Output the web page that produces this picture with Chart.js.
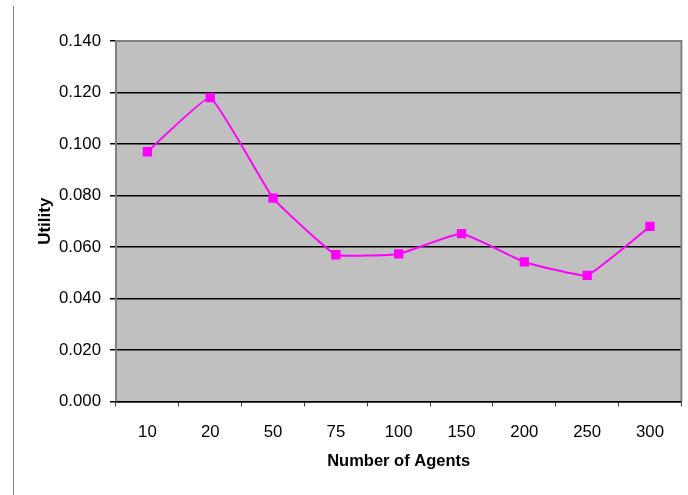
<!DOCTYPE html>
<html>
<head>
<meta charset="utf-8">
<script src="https://cdn.jsdelivr.net/npm/chart.js@4/dist/chart.umd.min.js"></script>
<style>
  html, body { margin: 0; padding: 0; background: #fff; }
  #wrap { width: 688px; height: 495px; }
</style>
</head>
<body>
<div id="wrap"><canvas id="chart" width="688" height="495"></canvas></div>
<script>
// values
const agents = ["10", "20", "50", "75", "100", "150", "200", "250", "300"];
const utility = [0.097, 0.118, 0.079, 0.057, 0.0573, 0.0652, 0.0542, 0.049, 0.068];
const yTicks = [0, 0.02, 0.04, 0.06, 0.08, 0.1, 0.12, 0.14];

// gray plot background + frame, plus the stray vertical line on the left
const framePlugin = {
    id: 'frame',
    beforeDraw(chart) {
        const ctx = chart.ctx;
        const a = chart.chartArea;
        ctx.save();
        ctx.fillStyle = '#C0C0C0';
        ctx.fillRect(a.left, a.top, a.right - a.left, a.bottom - a.top);
        ctx.strokeStyle = '#808080';
        ctx.lineWidth = 1;
        ctx.beginPath();
        ctx.moveTo(13.5, 6);
        ctx.lineTo(13.5, 495);
        ctx.stroke();
        ctx.restore();
    },
    beforeDatasetsDraw(chart) {
        const ctx = chart.ctx;
        const a = chart.chartArea;
        ctx.save();
        ctx.strokeStyle = '#808080';
        ctx.lineWidth = 2;
        ctx.beginPath();
        ctx.moveTo(a.left, a.bottom);
        ctx.lineTo(a.left, a.top);
        ctx.lineTo(a.right, a.top);
        ctx.lineTo(a.right, a.bottom);
        ctx.stroke();
        ctx.restore();
    }
};

const ctx = document.getElementById('chart');
const myChart = new Chart(ctx, {
    type: 'line',
    data: {
        labels: agents,
        datasets: [{
            label: 'Utility',
            data: utility,
            borderColor: '#FF00FF',
            backgroundColor: '#FF00FF',
            borderWidth: 2,
            tension: 0.1,
            pointStyle: 'rect',
            pointRadius: 6.6,
            pointBorderWidth: 0,
            pointBackgroundColor: '#FF00FF'
        }]
    },
    options: {
        responsive: false,
        animation: false,
        layout: { padding: { top: 41, right: 4, left: 0, bottom: 0 } },
        plugins: {
            legend: { display: false },
            tooltip: { enabled: false }
        },
        scales: {
            x: {
                offset: true,
                grid: {
                    offset: true,
                    drawOnChartArea: false,
                    tickLength: 5,
                    tickColor: '#404040'
                },
                border: { display: true, color: '#000', width: 1.5 },
                ticks: {
                    color: '#000',
                    padding: 16,
                    maxRotation: 0,
                    font: { family: 'Liberation Sans, Arial, sans-serif', size: 16.8 }
                },
                title: {
                    display: true,
                    text: 'Number of Agents',
                    color: '#000',
                    padding: { top: 0, bottom: 24 },
                    font: { family: 'Liberation Sans, Arial, sans-serif', size: 16.5, weight: 'bold' }
                },
                afterFit(scale) {
                    scale.height = 93.5;
                    scale.paddingLeft = 0;
                    scale.paddingRight = 0;
                }
            },
            y: {
                min: 0,
                max: 0.14,
                afterBuildTicks(scale) {
                    scale.ticks = yTicks.map(v => ({ value: v }));
                },
                grid: {
                    color: c => (c.tick && c.tick.value >= 0.14 ? 'rgba(0,0,0,0)' : '#000'),
                    tickColor: '#000',
                    tickLength: 6,
                    lineWidth: 1.5
                },
                border: { display: false },
                ticks: {
                    color: '#000',
                    padding: 9,
                    font: { family: 'Liberation Sans, Arial, sans-serif', size: 16.8 },
                    callback: v => Number(v).toFixed(3)
                },
                title: {
                    display: true,
                    text: 'Utility',
                    color: '#000',
                    padding: { top: 35, bottom: 0 },
                    font: { family: 'Liberation Sans, Arial, sans-serif', size: 17, weight: 'bold' }
                },
                afterFit(scale) { scale.width = 116; }
            }
        }
    },
    plugins: [framePlugin]
});
</script>
</body>
</html>
